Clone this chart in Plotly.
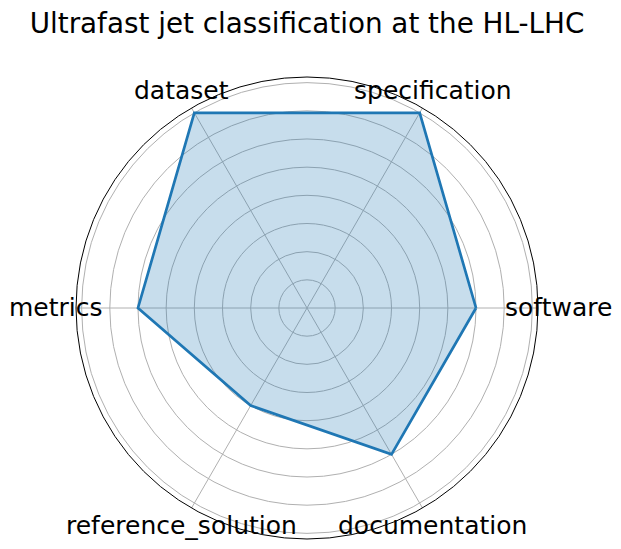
import math
import plotly.graph_objects as go

categories = ["software", "specification", "dataset", "metrics", "reference_solution", "documentation"]
scores = [3, 4, 4, 3, 2, 3]
grid_values = [0.5, 1.0, 1.5, 2.0, 2.5, 3.0, 3.5, 4.0]

r_max = 4.1

theta_closed = categories + categories[:1]
r_closed = scores + scores[:1]

fig = go.Figure()
fig.add_trace(go.Scatterpolar(
    r=r_closed, theta=theta_closed, mode="lines", fill="toself",
    fillcolor="rgba(31,119,180,0.25)",
    line=dict(color="#1f77b4", width=2.7),
    hoverinfo="skip", showlegend=False,
))

W, H = 621, 549
off = 8  # page body margin
cx, cy, rad = 307 - off, 308 - off, 231
label_rad = 251.5

annotations = []
n = len(categories)
for i, name in enumerate(categories):
    a = 2 * math.pi * i / n
    annotations.append(dict(
        text=name, showarrow=False, xref="paper", yref="paper",
        x=(cx + label_rad * math.cos(a)) / W,
        y=(H - cy + label_rad * math.sin(a)) / H,
        xanchor="center", yanchor="middle",
        font=dict(family="DejaVu Sans", size=25, color="black"),
    ))

fig.update_layout(
    width=W, height=H,
    margin=dict(l=0, r=0, t=0, b=0),
    paper_bgcolor="white",
    font=dict(family="DejaVu Sans", color="black"),
    title=dict(text="Ultrafast jet classification at the HL-LHC",
               x=(307 - off) / W, xanchor="center", y=1 - (23 - off) / H, yanchor="middle",
               font=dict(family="DejaVu Sans", size=27.8, color="black")),
    annotations=annotations,
    polar=dict(
        domain=dict(x=[(cx - rad) / W, (cx + rad) / W],
                    y=[(H - cy - rad) / H, (H - cy + rad) / H]),
        bgcolor="white",
        radialaxis=dict(range=[0, r_max], tickvals=grid_values, showticklabels=False,
                        ticks="", showline=False, gridcolor="#b0b0b0", gridwidth=1),
        angularaxis=dict(direction="counterclockwise", rotation=0,
                         showticklabels=False, ticks="", showline=True,
                         linecolor="black", linewidth=1,
                         gridcolor="#b0b0b0", gridwidth=1),
    ),
)
fig.write_html("out.html")
